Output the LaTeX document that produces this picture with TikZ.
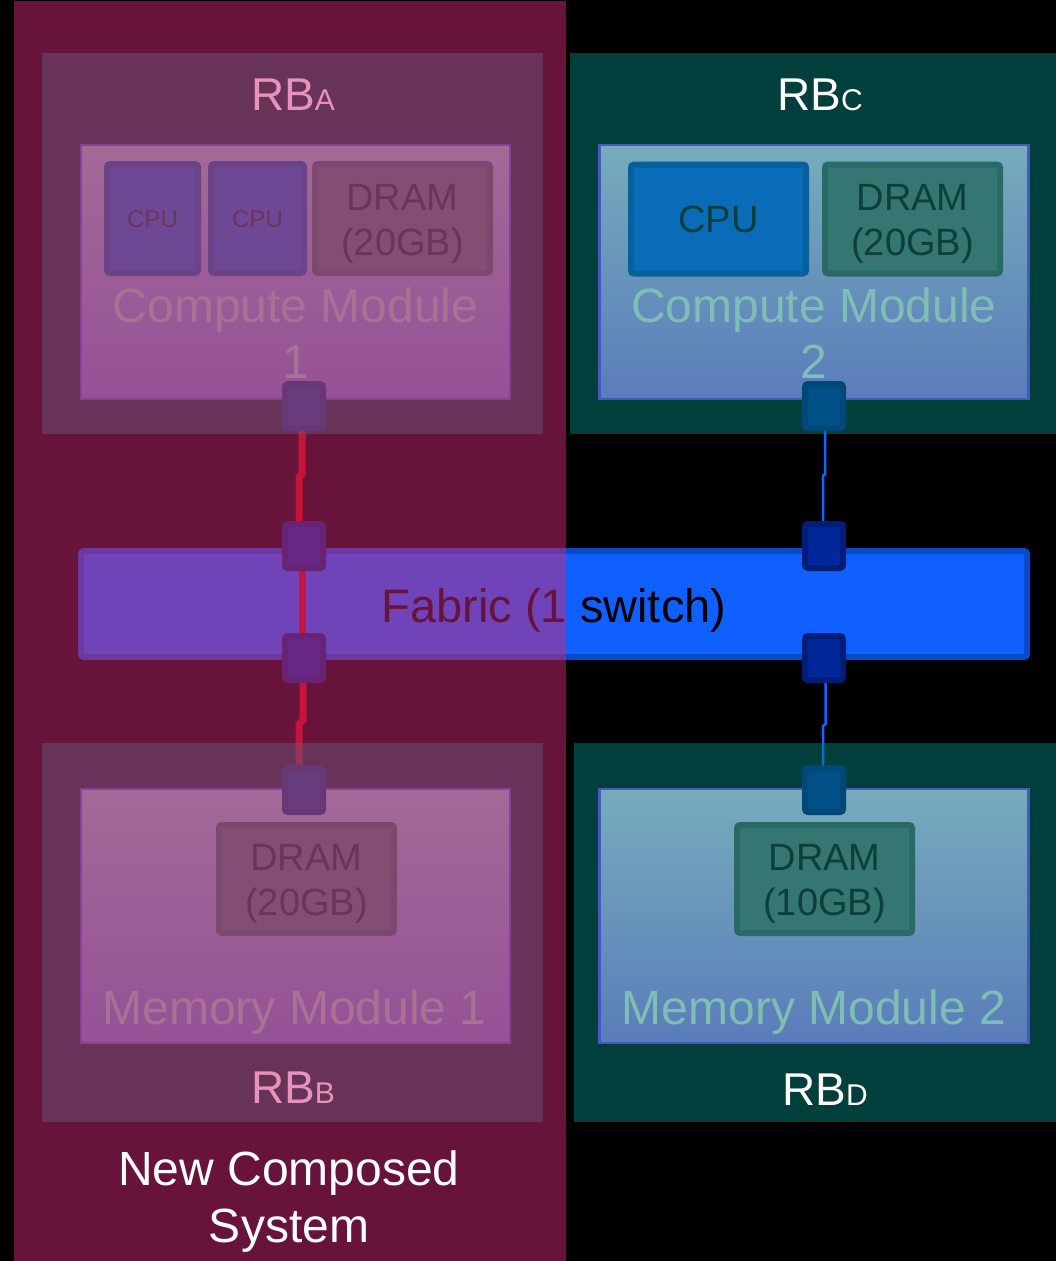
\documentclass[tikz,border=0pt]{standalone}
\usepackage{fontspec}
\setmainfont{Liberation Sans}
\definecolor{rbfill}{HTML}{007E78}
\definecolor{overlaycol}{HTML}{D02874}
\definecolor{redlink}{HTML}{C00000}
\definecolor{bluelink}{HTML}{1064FF}
\definecolor{modtop}{HTML}{76ACBC}
\definecolor{modbot}{HTML}{5A7CBA}
\definecolor{modedge}{HTML}{4858C0}
\definecolor{cpufill}{HTML}{0A6CB8}
\definecolor{cpuedge}{HTML}{06609A}
\definecolor{dramfill}{HTML}{357572}
\definecolor{dramedge}{HTML}{2A6A66}
\definecolor{chiptext}{HTML}{0B3F3C}
\definecolor{modtext}{HTML}{7EBEB4}
\definecolor{cmportfill}{HTML}{005088}
\definecolor{cmportedge}{HTML}{004878}
\definecolor{fabportfill}{HTML}{00289A}
\definecolor{fabportedge}{HTML}{001E78}
\definecolor{fabfill}{HTML}{1060FF}
\definecolor{fabedge}{HTML}{0A4AC8}
\newcommand\rbsub[1]{{\fontsize{30}{30}\selectfont #1}}
\begin{document}
\begin{tikzpicture}[x=1pt,y=-1pt,
  rbbox/.style={fill=rbfill, fill opacity=0.5},
  module/.style={draw=modedge, line width=2.5pt, top color=modtop, bottom color=modbot,
    minimum width=429pt, minimum height=254pt, inner sep=0pt, outer sep=0pt},
  chipbase/.style={line width=6pt, rounded corners=3pt, inner sep=0pt, outer sep=0pt, minimum height=109pt},
  cpubox/.style={chipbase, draw=cpuedge, fill=cpufill},
  drambox/.style={chipbase, draw=dramedge, fill=dramfill},
  chiptxt/.style={text=chiptext, align=center, inner sep=0pt, anchor=base},
  smallchip/.style={chiptxt, font=\fontsize{24}{28}\selectfont},
  bigchip/.style={chiptxt, font=\fontsize{38}{45}\selectfont},
  modlabel/.style={text=modtext, align=center, inner sep=0pt, anchor=base, font=\fontsize{48}{56}\selectfont},
  rblabel/.style={text=white, inner sep=0pt, anchor=base, font=\fontsize{46}{50}\selectfont},
  portbox/.style={line width=6pt, rounded corners=3pt, minimum width=38pt, minimum height=44pt, inner sep=0pt, outer sep=0pt},
  cmport/.style={portbox, fill=cmportfill, draw=cmportedge},
  fabport/.style={portbox, fill=fabportfill, draw=fabportedge},
  fabricbox/.style={fill=fabfill, draw=fabedge, line width=6pt, rounded corners=3pt,
    minimum width=946pt, minimum height=106pt, inner sep=0pt, outer sep=0pt},
  hotlink/.style={draw=redlink, line width=7pt},
  thinlink/.style={draw=bluelink, line width=2.5pt}
]
% canvas
\fill[black] (0,0) rectangle (1056,1261);
\useasboundingbox (0,0) rectangle (1056,1261);

% fabric switch
\node[fabricbox] (fabric) at (554,604) {};
\node[text=black, inner sep=0pt, anchor=base, font=\fontsize{47}{50}\selectfont] (fabtext) at (554,622) {Fabric (1 switch)};

% port positions (the visible ports are drawn later, above the links)
\path (304,406) node[cmport, draw=none, fill=none] (p1) {}
      (304,546) node[fabport, draw=none, fill=none] (p2) {}
      (304,658) node[fabport, draw=none, fill=none] (p3) {}
      (304,790) node[cmport, draw=none, fill=none] (p4) {}
      (824,406) node[cmport, draw=none, fill=none] (q1) {}
      (824,546) node[fabport, draw=none, fill=none] (q2) {}
      (824,658) node[fabport, draw=none, fill=none] (q3) {}
      (824,790) node[cmport, draw=none, fill=none] (q4) {};

% links
\draw[hotlink] ([xshift=-2pt]p1.south) -- ++(0,46) -- ++(-3,3) -- ([xshift=-5pt]p2.north);
\draw[hotlink] ([xshift=-2pt]p2.south) -- ([xshift=-2pt]p3.north);
\draw[hotlink] ([xshift=-1pt]p3.south) -- ++(0,40) -- ++(-4,4) -- ([xshift=-5pt]p4.north);
\draw[thinlink] ([xshift=1pt]q1.south) -- ++(0,46) -- ++(-2,2) -- ([xshift=-1pt]q2.north);
\draw[thinlink] ([xshift=1.5pt]q3.south) -- ++(0,44) -- ++(-2.5,2) -- ([xshift=-1pt]q4.north);

% resource blocks
\fill[rbbox] (42,53) rectangle (543,434);
\fill[rbbox] (570,53) rectangle (1056,434);
\fill[rbbox] (42,743) rectangle (543,1122);
\fill[rbbox] (574,743) rectangle (1056,1122);

% compute modules
\node[module] (cm1) at (295.5,272) {};
\node[module] (cm2) at (814,272) {};
\node[cpubox, minimum width=91pt] (c1a) at (152.5,218.5) {};
\node[cpubox, minimum width=93pt] (c1b) at (257.5,218.5) {};
\node[drambox, minimum width=175pt] (d1) at (402.5,218.5) {};
\node[cpubox, minimum width=175pt] (c2) at (718.5,219) {};
\node[drambox, minimum width=175pt] (d2) at (912.5,219) {};
\node[smallchip] (c1atxt) at ([yshift=-9pt]c1a.center) {CPU};
\node[smallchip] (c1btxt) at ([yshift=-9pt]c1b.center) {CPU};
\node[bigchip] (d1txt) at ([yshift=-36.5pt]d1.center) {DRAM\\(20GB)};
\node[bigchip] (c2txt) at ([yshift=-13pt]c2.center) {CPU};
\node[bigchip] (d2txt) at ([yshift=-36.5pt]d2.center) {DRAM\\(20GB)};
\node[modlabel] (cm1txt) at (295.5,378) {Compute Module\\1};
\node[modlabel] (cm2txt) at (814,378) {Compute Module\\2};

% memory modules
\node[module] (mm1) at (295.5,916) {};
\node[module] (mm2) at (814,916) {};
\node[drambox, minimum width=175pt, minimum height=108pt] (d3) at (306.5,879) {};
\node[drambox, minimum width=175pt, minimum height=108pt] (d4) at (824.5,879) {};
\node[bigchip] (d3txt) at ([yshift=-36pt]d3.center) {DRAM\\(20GB)};
\node[bigchip] (d4txt) at ([yshift=-36pt]d4.center) {DRAM\\(10GB)};
\node[modlabel] (mm1txt) at (294.5,1024) {Memory Module 1};
\node[modlabel] (mm2txt) at (814,1024) {Memory Module 2};

% ports drawn on top
\node[cmport] at (p1) {};
\node[fabport] at (p2) {};
\node[fabport] at (p3) {};
\node[cmport] at (p4) {};
\node[cmport] at (q1) {};
\node[fabport] at (q2) {};
\node[fabport] at (q3) {};
\node[cmport] at (q4) {};

% resource block names
\node[rblabel] (rba) at (293,110) {RB\rbsub{A}};
\node[rblabel] (rbc) at (820,110) {RB\rbsub{C}};
\node[rblabel] (rbb) at (293,1103) {RB\rbsub{B}};
\node[rblabel] (rbd) at (825,1105) {RB\rbsub{D}};

% composed system highlight
\fill[overlaycol, fill opacity=0.5] (14,1) rectangle (566,1261);
\node[text=white, align=center, inner sep=0pt, anchor=base, font=\fontsize{48}{57}\selectfont] (ncs) at (289,1242) {New Composed\\System};
\end{tikzpicture}
\end{document}
